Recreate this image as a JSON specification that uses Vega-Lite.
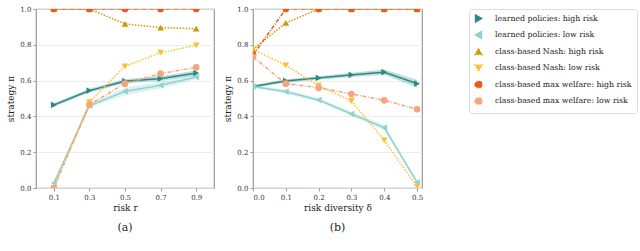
{
  "$schema": "https://vega.github.io/schema/vega-lite/v6.json",
  "background": "white",
  "padding": {"left": 6, "top": 4, "right": 2, "bottom": 0},
  "datasets": {
    "a": [
      {"x": 0.1, "s": "learned policies: high risk", "y": 0.464, "lo": 0.454, "hi": 0.474},
      {"x": 0.3, "s": "learned policies: high risk", "y": 0.544, "lo": 0.533, "hi": 0.555},
      {"x": 0.5, "s": "learned policies: high risk", "y": 0.597, "lo": 0.585, "hi": 0.609},
      {"x": 0.7, "s": "learned policies: high risk", "y": 0.611, "lo": 0.598, "hi": 0.624},
      {"x": 0.9, "s": "learned policies: high risk", "y": 0.642, "lo": 0.627, "hi": 0.657},
      {"x": 0.1, "s": "learned policies: low risk", "y": 0.028, "lo": 0.02, "hi": 0.036},
      {"x": 0.3, "s": "learned policies: low risk", "y": 0.46, "lo": 0.45, "hi": 0.47},
      {"x": 0.5, "s": "learned policies: low risk", "y": 0.54, "lo": 0.518, "hi": 0.562},
      {"x": 0.7, "s": "learned policies: low risk", "y": 0.574, "lo": 0.556, "hi": 0.592},
      {"x": 0.9, "s": "learned policies: low risk", "y": 0.62, "lo": 0.608, "hi": 0.632},
      {"x": 0.1, "s": "class-based Nash: high risk", "y": 1.0},
      {"x": 0.3, "s": "class-based Nash: high risk", "y": 1.0},
      {"x": 0.5, "s": "class-based Nash: high risk", "y": 0.917},
      {"x": 0.7, "s": "class-based Nash: high risk", "y": 0.896},
      {"x": 0.9, "s": "class-based Nash: high risk", "y": 0.89},
      {"x": 0.1, "s": "class-based Nash: low risk", "y": 0.0},
      {"x": 0.3, "s": "class-based Nash: low risk", "y": 0.48},
      {"x": 0.5, "s": "class-based Nash: low risk", "y": 0.68},
      {"x": 0.7, "s": "class-based Nash: low risk", "y": 0.756},
      {"x": 0.9, "s": "class-based Nash: low risk", "y": 0.797},
      {"x": 0.1, "s": "class-based max welfare: high risk", "y": 1.0},
      {"x": 0.3, "s": "class-based max welfare: high risk", "y": 1.0},
      {"x": 0.5, "s": "class-based max welfare: high risk", "y": 1.0},
      {"x": 0.7, "s": "class-based max welfare: high risk", "y": 1.0},
      {"x": 0.9, "s": "class-based max welfare: high risk", "y": 1.0},
      {"x": 0.1, "s": "class-based max welfare: low risk", "y": 0.0},
      {"x": 0.3, "s": "class-based max welfare: low risk", "y": 0.466},
      {"x": 0.5, "s": "class-based max welfare: low risk", "y": 0.583},
      {"x": 0.7, "s": "class-based max welfare: low risk", "y": 0.639},
      {"x": 0.9, "s": "class-based max welfare: low risk", "y": 0.674}
    ],
    "b": [
      {"x": 0.0, "s": "learned policies: high risk", "y": 0.567, "lo": 0.559, "hi": 0.575},
      {"x": 0.1, "s": "learned policies: high risk", "y": 0.598, "lo": 0.588, "hi": 0.608},
      {"x": 0.2, "s": "learned policies: high risk", "y": 0.615, "lo": 0.605, "hi": 0.625},
      {"x": 0.3, "s": "learned policies: high risk", "y": 0.632, "lo": 0.62, "hi": 0.644},
      {"x": 0.4, "s": "learned policies: high risk", "y": 0.647, "lo": 0.632, "hi": 0.662},
      {"x": 0.5, "s": "learned policies: high risk", "y": 0.583, "lo": 0.561, "hi": 0.605},
      {"x": 0.0, "s": "learned policies: low risk", "y": 0.567, "lo": 0.559, "hi": 0.575},
      {"x": 0.1, "s": "learned policies: low risk", "y": 0.538, "lo": 0.526, "hi": 0.55},
      {"x": 0.2, "s": "learned policies: low risk", "y": 0.492, "lo": 0.482, "hi": 0.502},
      {"x": 0.3, "s": "learned policies: low risk", "y": 0.414, "lo": 0.402, "hi": 0.426},
      {"x": 0.4, "s": "learned policies: low risk", "y": 0.337, "lo": 0.322, "hi": 0.352},
      {"x": 0.5, "s": "learned policies: low risk", "y": 0.032, "lo": 0.022, "hi": 0.042},
      {"x": 0.0, "s": "class-based Nash: high risk", "y": 0.775},
      {"x": 0.1, "s": "class-based Nash: high risk", "y": 0.922},
      {"x": 0.2, "s": "class-based Nash: high risk", "y": 1.0},
      {"x": 0.3, "s": "class-based Nash: high risk", "y": 1.0},
      {"x": 0.4, "s": "class-based Nash: high risk", "y": 1.0},
      {"x": 0.5, "s": "class-based Nash: high risk", "y": 1.0},
      {"x": 0.0, "s": "class-based Nash: low risk", "y": 0.775},
      {"x": 0.1, "s": "class-based Nash: low risk", "y": 0.685},
      {"x": 0.2, "s": "class-based Nash: low risk", "y": 0.572},
      {"x": 0.3, "s": "class-based Nash: low risk", "y": 0.486},
      {"x": 0.4, "s": "class-based Nash: low risk", "y": 0.266},
      {"x": 0.5, "s": "class-based Nash: low risk", "y": 0.008},
      {"x": 0.0, "s": "class-based max welfare: high risk", "y": 0.743},
      {"x": 0.1, "s": "class-based max welfare: high risk", "y": 1.0},
      {"x": 0.2, "s": "class-based max welfare: high risk", "y": 1.0},
      {"x": 0.3, "s": "class-based max welfare: high risk", "y": 1.0},
      {"x": 0.4, "s": "class-based max welfare: high risk", "y": 1.0},
      {"x": 0.5, "s": "class-based max welfare: high risk", "y": 1.0},
      {"x": 0.0, "s": "class-based max welfare: low risk", "y": 0.733},
      {"x": 0.1, "s": "class-based max welfare: low risk", "y": 0.583},
      {"x": 0.2, "s": "class-based max welfare: low risk", "y": 0.56},
      {"x": 0.3, "s": "class-based max welfare: low risk", "y": 0.525},
      {"x": 0.4, "s": "class-based max welfare: low risk", "y": 0.49},
      {"x": 0.5, "s": "class-based max welfare: low risk", "y": 0.44}
    ]
  },
  "config": {
    "font": "DejaVu Serif",
    "view": {"stroke": "#9a9a9a", "strokeWidth": 1.2},
    "axis": {
      "labelFont": "DejaVu Serif", "labelFontSize": 7, "labelColor": "#333333",
      "titleFont": "DejaVu Serif", "titleFontSize": 9, "titleFontWeight": "normal", "titleColor": "#222222",
      "domain": false, "tickColor": "#9a9a9a", "tickSize": 3, "labelPadding": 2, "gridColor": "#e8e8e8", "gridWidth": 0.8
    },
    "axisX": {"grid": false, "titlePadding": 3},
    "axisY": {"titlePadding": 4},
    "title": {"font": "DejaVu Serif", "fontSize": 11, "fontWeight": "normal", "color": "#222222", "orient": "bottom", "anchor": "middle", "offset": 10},
    "legend": {
      "labelFont": "DejaVu Serif", "labelFontSize": 7.8, "labelColor": "#222222",
      "fillColor": "white", "strokeColor": "#dddddd", "cornerRadius": 3, "padding": 5,
      "rowPadding": 3.5, "symbolSize": 45, "labelOffset": 12, "symbolOffset": 0, "offset": 45, "orient": "right"
    }
  },
  "resolve": {"scale": {"color": "shared", "shape": "shared", "strokeDash": "shared", "strokeWidth": "shared"}, "legend": {"color": "shared"}},
  "spacing": 8,
  "hconcat": [
    {
      "width": 178, "height": 179,
      "title": {"text": "(a)"},
      "data": {"name": "a"},
      "encoding": {
        "x": {"field": "x", "type": "quantitative", "scale": {"domain": [0, 1], "nice": false, "zero": false},
              "axis": {"values": [0.1, 0.3, 0.5, 0.7, 0.9], "format": ".1f", "title": "risk r"}},
        "y": {"field": "y", "type": "quantitative", "scale": {"domain": [0, 1], "nice": false},
              "axis": {"values": [0, 0.2, 0.4, 0.6, 0.8, 1.0], "format": ".1f", "title": "strategy π"}},
        "color": {"field": "s", "type": "nominal", "title": null,
          "scale": {"domain": ["learned policies: high risk", "learned policies: low risk", "class-based Nash: high risk", "class-based Nash: low risk", "class-based max welfare: high risk", "class-based max welfare: low risk"],
                    "range": ["#2b8a84", "#8ed3ce", "#cc9a06", "#fdc12d", "#ee5a16", "#f8a57f"]},
          "legend": {"title": null, "encode": {"symbols": {"update": {"opacity": {"value": 1}}}}}}
      },
      "layer": [
        {
          "transform": [{"filter": "isValid(datum.lo)"}],
          "mark": {"type": "area", "opacity": 0.3, "clip": true},
          "encoding": {
            "y": {"field": "lo", "type": "quantitative"},
            "y2": {"field": "hi"}
          }
        },
        {
          "mark": {"type": "line", "clip": true},
          "encoding": {
            "strokeDash": {"field": "s", "type": "nominal", "legend": null,
              "scale": {"domain": ["learned policies: high risk", "learned policies: low risk", "class-based Nash: high risk", "class-based Nash: low risk", "class-based max welfare: high risk", "class-based max welfare: low risk"],
                        "range": [[1, 0], [1, 0], [1.5, 1.5], [1.5, 1.5], [4, 1.5, 1, 1.5], [4, 1.5, 1, 1.5]]}},
            "strokeWidth": {"field": "s", "type": "nominal", "legend": null,
              "scale": {"domain": ["learned policies: high risk", "learned policies: low risk", "class-based Nash: high risk", "class-based Nash: low risk", "class-based max welfare: high risk", "class-based max welfare: low risk"],
                        "range": [1.5, 1.5, 1, 1, 1, 1]}}
          }
        },
        {
          "mark": {"type": "point", "filled": true, "opacity": 1, "size": 45, "clip": true},
          "encoding": {
            "shape": {"field": "s", "type": "nominal", "legend": null,
              "scale": {"domain": ["learned policies: high risk", "learned policies: low risk", "class-based Nash: high risk", "class-based Nash: low risk", "class-based max welfare: high risk", "class-based max welfare: low risk"],
                        "range": ["triangle-right", "triangle-left", "triangle-up", "triangle-down", "circle", "circle"]}}
          }
        }
      ]
    },
    {
      "width": 169, "height": 179,
      "title": {"text": "(b)"},
      "data": {"name": "b"},
      "encoding": {
        "x": {"field": "x", "type": "quantitative", "scale": {"domain": [0, 0.515], "nice": false, "zero": false},
              "axis": {"values": [0, 0.1, 0.2, 0.3, 0.4, 0.5], "format": ".1f", "title": "risk diversity δ"}},
        "y": {"field": "y", "type": "quantitative", "scale": {"domain": [0, 1], "nice": false},
              "axis": {"values": [0, 0.2, 0.4, 0.6, 0.8, 1.0], "format": ".1f", "title": "strategy π"}},
        "color": {"field": "s", "type": "nominal", "title": null,
          "legend": {"title": null, "encode": {"symbols": {"update": {"opacity": {"value": 1}}}}}}
      },
      "layer": [
        {
          "transform": [{"filter": "isValid(datum.lo)"}],
          "mark": {"type": "area", "opacity": 0.3, "clip": true},
          "encoding": {
            "y": {"field": "lo", "type": "quantitative"},
            "y2": {"field": "hi"}
          }
        },
        {
          "mark": {"type": "line", "clip": true},
          "encoding": {
            "strokeDash": {"field": "s", "type": "nominal", "legend": null},
            "strokeWidth": {"field": "s", "type": "nominal", "legend": null}
          }
        },
        {
          "mark": {"type": "point", "filled": true, "opacity": 1, "size": 45, "clip": true},
          "encoding": {
            "shape": {"field": "s", "type": "nominal", "legend": null}
          }
        }
      ]
    }
  ]
}
